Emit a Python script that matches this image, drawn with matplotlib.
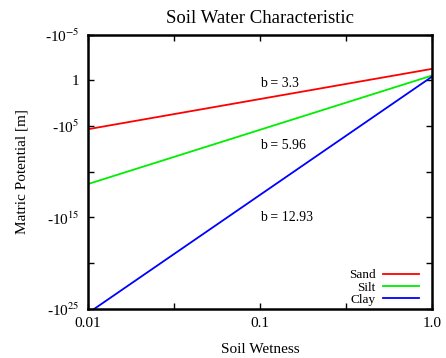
import numpy as np
import matplotlib
matplotlib.use("Agg")
import matplotlib.pyplot as plt

plt.rcParams['font.family'] = ['Liberation Serif', 'DejaVu Serif']
plt.rcParams['mathtext.fontset'] = 'stix'

# Data
soils = ["Sand", "Silt", "Clay"]
colors = ["#ff0000", "#00ee00", "#0000ff"]
b_values = [3.3, 5.96, 12.93]
wetness = [0.01, 1.0]
# matric potential [m] at the two ends of each line
psi_sand = [-10**5.35, -10**-1.25]
psi_silt = [-10**11.35, -10**-0.52]
psi_clay = [-10**25.48, -10**-0.40]
psi_all = [psi_sand, psi_silt, psi_clay]

ytick_exp = [-5, 0, 5, 10, 15, 20, 25]
ytick_labels = ['-10$^{-5}$', '1', '-10$^{5}$', '', '-10$^{15}$', '', '-10$^{25}$']
xtick_vals = [0.01, 10**-1.5, 0.1, 10**-0.5, 1.0]
xtick_labels = ['0.01', '', '0.1', '', '1.0']

fig = plt.figure(figsize=(4.46, 3.58), dpi=100)
ax = fig.add_axes([88/446, 1-308.8/358, (432-88)/446, (308.8-34.6)/358])

for name, col, psi in zip(soils, colors, psi_all):
    ax.plot(wetness, np.log10(-np.array(psi)), color=col, lw=1.3, label=name)

ax.set_xscale('log')
ax.set_xlim(0.01, 1.0)
ax.set_ylim(25, -5)
ax.set_xticks(xtick_vals)
ax.set_xticklabels(xtick_labels)
ax.xaxis.set_minor_locator(matplotlib.ticker.NullLocator())
ax.set_yticks(ytick_exp)
ax.set_yticklabels(ytick_labels)
ax.tick_params(direction='in', length=4, width=1, top=True, right=True,
               labelsize=11, pad=6)
for s in ax.spines.values():
    s.set_linewidth(1.8)

# annotations
ann_y = [0.3, 7.1, 15.0]
for b, yy in zip(b_values, ann_y):
    ax.text(0.1, yy, f"b = {b}", ha='left', va='center', fontsize=10)

ax.set_title("Soil Water Characteristic", fontsize=13.5, pad=8)
ax.set_xlabel("Soil Wetness", fontsize=11, labelpad=9)
ax.set_ylabel("Matric Potential [m]", fontsize=11, labelpad=12)

ax.legend(loc='lower right', bbox_to_anchor=(1 - 13/344, 3/274),
          frameon=False, markerfirst=False, fontsize=9.5,
          handlelength=2.7, handletextpad=0.6, labelspacing=0.0,
          borderaxespad=0, borderpad=0)

fig.savefig("out.png", dpi=100)
